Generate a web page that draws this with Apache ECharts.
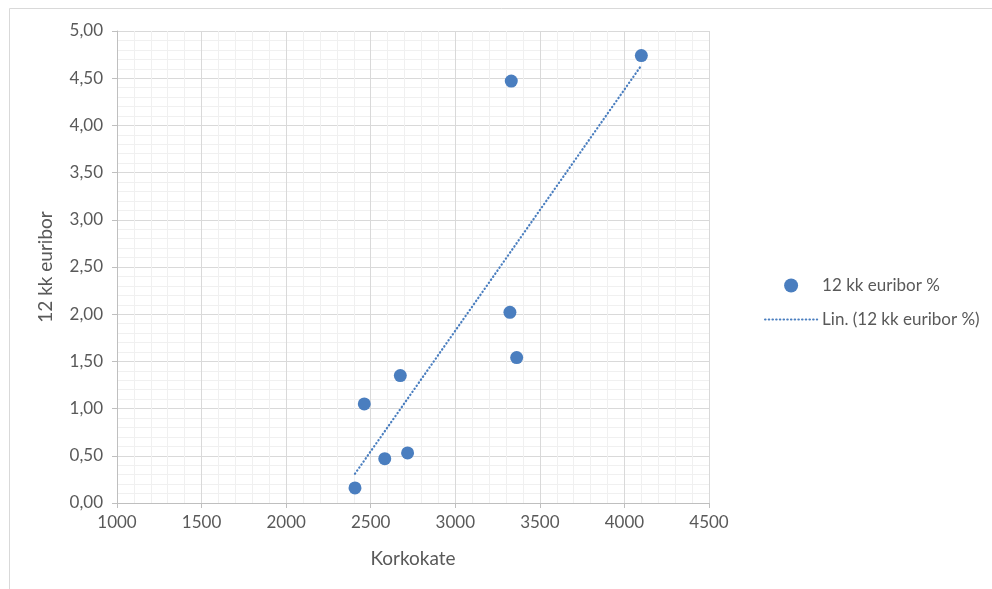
<!DOCTYPE html>
<html>
<head>
<meta charset="utf-8">
<script src="https://cdn.jsdelivr.net/npm/echarts@6/dist/echarts.min.js"></script>
<style>
  html, body { margin: 0; padding: 0; background: #fff; }
  #chart { width: 992px; height: 589px; }
</style>
</head>
<body>
<div id="chart"></div>
<script>
// Korkokate vs. 12 kk euribor observations
const korkokate = [2407, 2462, 2675, 2583, 2718, 3323, 3363, 3331, 4100];
const euribor = [0.16, 1.05, 1.35, 0.47, 0.53, 2.02, 1.54, 4.47, 4.74];
const seriesName = '12 kk euribor %';
const trendName = 'Lin. (12 kk euribor %)';

// Least-squares linear trend over the observations
function linearFit(xs, ys) {
  const n = xs.length;
  const mx = xs.reduce((a, b) => a + b, 0) / n;
  const my = ys.reduce((a, b) => a + b, 0) / n;
  let sxy = 0, sxx = 0;
  for (let i = 0; i < n; i++) {
    sxy += (xs[i] - mx) * (ys[i] - my);
    sxx += (xs[i] - mx) * (xs[i] - mx);
  }
  const slope = sxy / sxx;
  return { slope, intercept: my - slope * mx };
}
const fit = linearFit(korkokate, euribor);
const xMin = Math.min(...korkokate);
const xMax = Math.max(...korkokate);
const trendPoints = [xMin, xMax].map(x => [x, fit.intercept + fit.slope * x]);

const points = korkokate.map((x, i) => [x, euribor[i]]);

const blue = '#4a7ebf';
const textColor = '#595959';
const font = 'Lato, "Open Sans", sans-serif';
const dotted = { color: blue, width: 2.2, type: [0.4, 3.3], cap: 'round' };

const chart = echarts.init(document.getElementById('chart'), null, { renderer: 'canvas' });
chart.setOption({
  animation: false,
  backgroundColor: '#ffffff',
  textStyle: { fontFamily: font },
  graphic: [{
    type: 'rect',
    shape: { x: 9.5, y: 8.5, width: 1200, height: 1200 },
    style: { fill: 'none', stroke: '#d9d9d9', lineWidth: 1 },
    silent: true
  }],
  grid: { left: 117, right: 283, top: 31, bottom: 86, containLabel: false },
  legend: {
    orient: 'vertical',
    left: 759,
    top: 272,
    itemWidth: 52,
    itemHeight: 14,
    itemGap: 17,
    textStyle: { color: textColor, fontSize: 17, fontFamily: font },
    data: [
      { name: seriesName, icon: 'circle' },
      { name: trendName, itemStyle: { opacity: 0 }, lineStyle: dotted }
    ]
  },
  xAxis: {
    type: 'value',
    min: 1000,
    max: 4500,
    interval: 500,
    name: 'Korkokate',
    nameLocation: 'middle',
    nameGap: 46,
    nameTextStyle: { color: textColor, fontSize: 19, fontFamily: font },
    axisLine: { show: true, onZero: false, lineStyle: { color: '#bfbfbf', width: 1 } },
    axisTick: { show: true, inside: false, length: 5, lineStyle: { color: '#bfbfbf' } },
    axisLabel: {
      color: textColor,
      fontSize: 17,
      margin: 11,
      fontFamily: font,
      formatter: v => String(v)
    },
    splitLine: { show: true, lineStyle: { color: '#d9d9d9', width: 1 } },
    minorTick: { show: false, splitNumber: 5 },
    minorSplitLine: { show: true, lineStyle: { color: '#f0f0f0', width: 1 } }
  },
  yAxis: {
    type: 'value',
    min: 0,
    max: 5,
    interval: 0.5,
    name: '12 kk euribor',
    nameLocation: 'middle',
    nameGap: 62,
    nameTextStyle: { color: textColor, fontSize: 19, fontFamily: font },
    axisLine: { show: true, onZero: false, lineStyle: { color: '#bfbfbf', width: 1 } },
    axisTick: { show: true, inside: false, length: 5, lineStyle: { color: '#bfbfbf' } },
    axisLabel: {
      color: textColor,
      fontSize: 17,
      margin: 14,
      fontFamily: font,
      formatter: v => v.toFixed(2).replace('.', ',')
    },
    splitLine: { show: true, lineStyle: { color: '#d9d9d9', width: 1 } },
    minorTick: { show: false, splitNumber: 5 },
    minorSplitLine: { show: true, lineStyle: { color: '#f0f0f0', width: 1 } }
  },
  series: [
    {
      name: trendName,
      type: 'line',
      data: trendPoints,
      showSymbol: false,
      symbol: 'none',
      lineStyle: dotted,
      itemStyle: { color: blue },
      z: 2
    },
    {
      name: seriesName,
      type: 'scatter',
      data: points,
      symbol: 'circle',
      symbolSize: 13,
      itemStyle: { color: blue, opacity: 1 },
      z: 3
    }
  ]
});
</script>
</body>
</html>
